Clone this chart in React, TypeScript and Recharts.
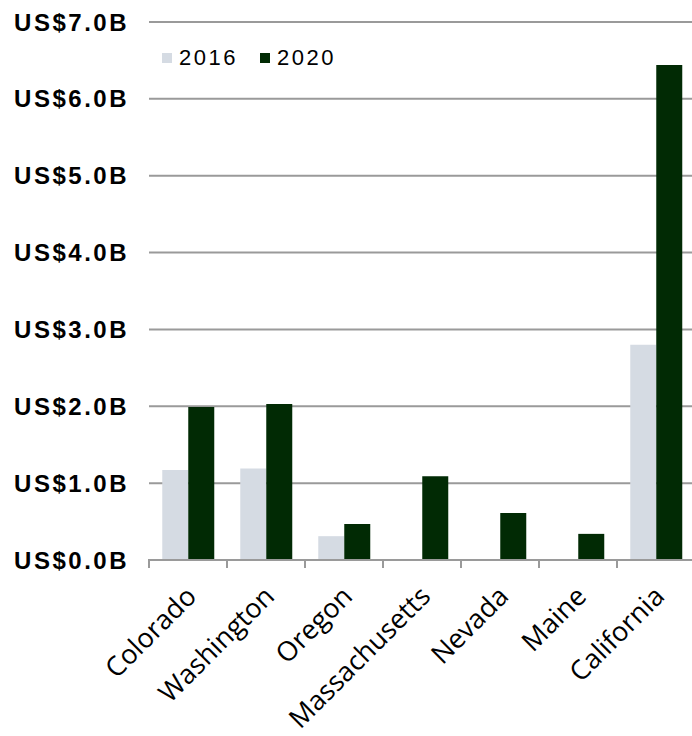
import { BarChart, Bar, XAxis, YAxis, CartesianGrid, Legend } from "recharts";

const states = ["Colorado", "Washington", "Oregon", "Massachusetts", "Nevada", "Maine", "California"];
const sales2016 = [1.17, 1.19, 0.31, null, null, null, 2.8];
const sales2020 = [1.99, 2.03, 0.47, 1.09, 0.61, 0.34, 6.44];
const yTicks = [0, 1, 2, 3, 4, 5, 6, 7];

const series = [
    { key: "y2016", name: "2016", color: "#D5DBE3" },
    { key: "y2020", name: "2020", color: "#012A04" },
];

const data = states.map((state, i) => ({ state, y2016: sales2016[i], y2020: sales2020[i] }));

const BAND = 78; // width of one category on the x axis
const GREY = "#9A9A9A";

function StateTick(props: any) {
    const { x, y, payload, index } = props;
    const last = index === states.length - 1;
    return (
        <g>
            <line x1={x - BAND / 2} x2={x - BAND / 2} y1={y - 9} y2={y} stroke={GREY} strokeWidth={2} />
            {last && <line x1={x + BAND / 2} x2={x + BAND / 2} y1={y - 9} y2={y} stroke={GREY} strokeWidth={2} />}
            <text
                transform={`translate(${x + 10},${y + 30}) rotate(-45)`}
                textAnchor="end"
                fontFamily="'Open Sans', sans-serif"
                fontSize={27}
                fill="#000"
            >
                {payload.value}
            </text>
        </g>
    );
}

function LegendBox() {
    return (
        <div style={{ display: "flex", fontFamily: "'Liberation Sans', Arial, sans-serif", fontSize: 22, letterSpacing: 2.5 }}>
            {series.map((s) => (
                <div key={s.key} style={{ display: "flex", alignItems: "center", marginRight: 22 }}>
                    <span style={{ width: 10, height: 10, background: s.color, marginRight: 7 }} />
                    <span>{s.name}</span>
                </div>
            ))}
        </div>
    );
}

export default function App() {
    return (
        <div style={{ position: "absolute", left: 0, top: 0, width: 692, height: 736, overflow: "hidden", background: "#fff" }}>
            <BarChart
                width={695}
                height={736}
                data={data}
                margin={{ top: 22, right: 0, bottom: 0, left: 0 }}
                barCategoryGap="17%"
                barGap={0}
            >
                <CartesianGrid horizontal vertical={false} stroke={GREY} strokeWidth={2} />
                <XAxis
                    dataKey="state"
                    height={176}
                    interval={0}
                    axisLine={{ stroke: GREY, strokeWidth: 2 }}
                    tickLine={false}
                    tickSize={8}
                    tickMargin={0}
                    tick={<StateTick />}
                />
                <YAxis
                    width={149}
                    domain={[0, 7]}
                    ticks={yTicks}
                    axisLine={false}
                    tickLine={false}
                    tickSize={6}
                    tickMargin={14}
                    tickFormatter={(v: number) => `US$${v.toFixed(1)}B`}
                    tick={{ fill: "#000", fontSize: 24, fontWeight: 700, fontFamily: "'Liberation Sans', Arial, sans-serif", letterSpacing: 2.5 }}
                />
                <Legend verticalAlign="middle" wrapperStyle={{ top: 45, left: 162, width: "auto" }} content={<LegendBox />} />
                {series.map((s) => (
                    <Bar key={s.key} dataKey={s.key} name={s.name} fill={s.color} isAnimationActive={false} />
                ))}
            </BarChart>
        </div>
    );
}
